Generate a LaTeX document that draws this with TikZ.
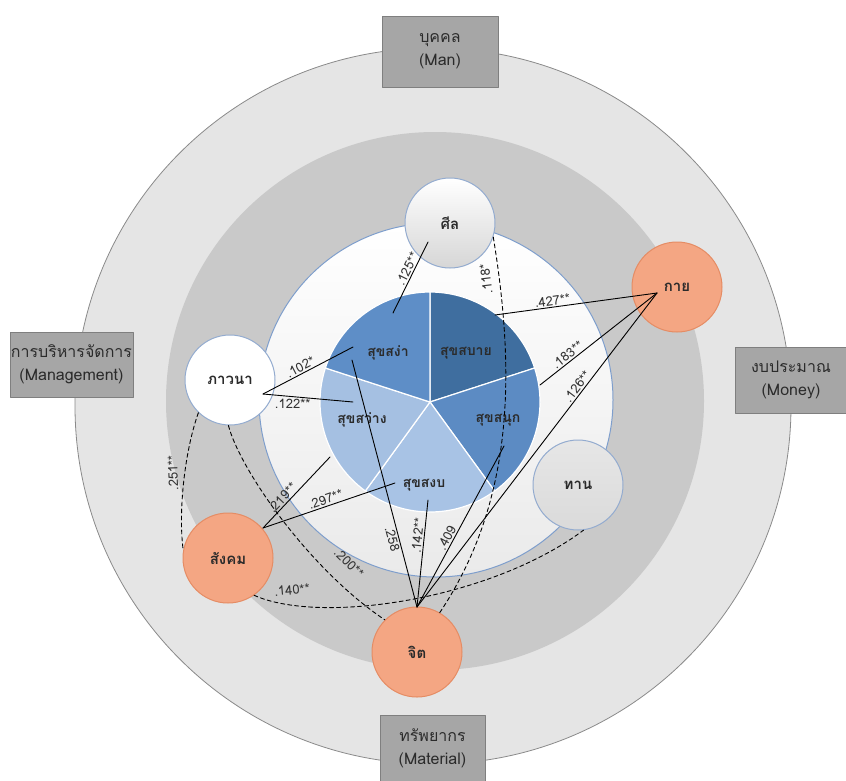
\documentclass[tikz,border=0pt]{standalone}
\usepackage{fontspec}
\newfontfamily\thaifont[Script=Thai]{Loma}
\definecolor{ringout}{HTML}{E5E5E5}
\definecolor{ringrim}{HTML}{8A8A8A}
\definecolor{ringmid}{HTML}{C9C9C9}
\definecolor{innergray}{HTML}{EAEAEA}
\definecolor{rimblue}{HTML}{7E9ECC}
\definecolor{pieA}{HTML}{5E8EC7}
\definecolor{pieB}{HTML}{3F6E9F}
\definecolor{pieC}{HTML}{5C8BC3}
\definecolor{pieD}{HTML}{A8C3E5}
\definecolor{pieE}{HTML}{A5C0E2}
\definecolor{ballorange}{HTML}{F4A683}
\definecolor{ballrim}{HTML}{E58C64}
\definecolor{ballgray}{HTML}{D6D6D6}
\definecolor{ballblue}{HTML}{93ABCF}
\definecolor{boxgray}{HTML}{A6A6A6}
\definecolor{boxrim}{HTML}{7F7F7F}
\definecolor{inktext}{HTML}{2B2B2B}
\tikzset{
  ball/.style={circle,minimum size=90pt,inner sep=0pt,line width=1pt,
    font=\thaifont\bfseries\fontsize{15}{18}\selectfont,text=inktext},
  orangeball/.style={ball,fill=ballorange,draw=ballrim},
  grayball/.style={ball,top color=white,bottom color=ballgray,draw=ballblue},
  whiteball/.style={ball,fill=white,draw=ballblue},
  resbox/.style={draw=boxrim,fill=boxgray,line width=0.8pt,inner sep=0pt,align=center,
    font=\thaifont\fontsize{16}{23}\selectfont,text=inktext},
  pielabel/.style={font=\thaifont\bfseries\fontsize{14}{17}\selectfont,text=inktext,inner sep=0pt},
  coef/.style={font=\thaifont\fontsize{13}{14}\selectfont,inner sep=1.5pt,text=black!80},
  link/.style={line width=0.9pt},
  dlink/.style={line width=0.9pt,dash pattern=on 4pt off 3pt},
}
\begin{document}
\begin{tikzpicture}[x=1pt,y=-1pt,line join=round,line cap=round]
	\useasboundingbox (0,0) rectangle (846,780);
	\path (433,406) coordinate (O1)
	(435,401) coordinate (O2)
	(436,400) coordinate (O3)
	(430,402) coordinate (pc)
	;
	% rings
	\filldraw[fill=ringout,draw=ringrim,line width=0.8pt] (O1) circle[radius=358];
	\fill[ringmid] (O2) circle[radius=269];
	\shadedraw[top color=white,bottom color=innergray,draw=rimblue,line width=1pt] (O3) circle[radius=177];
	% pie (angles negated, y runs down)
	\foreach \a/\b/\c in {-90/-18/pieB,-18/54/pieC,54/126/pieD,126/198/pieE,198/270/pieA}
	\filldraw[fill=\c,draw=white,line width=1.2pt] (pc) -- ++(\a:110) arc[start angle=\a,end angle=\b,radius=110] -- cycle;
	\node[pielabel] (sngaa) at (388,353) {สุขสง่า};
	\node[pielabel] (sbaay) at (466,353) {สุขสบาย};
	\node[pielabel] (swaang) at (362,420) {สุขสว่าง};
	\node[pielabel] (snuk) at (498,420) {สุขสนุก};
	\node[pielabel] (sngob) at (424,485) {สุขสงบ};
	% outer boxes
	\node[resbox,minimum width=116pt,minimum height=71pt] (man) at (440,51.5) {บุคคล\\(Man)};
	\node[resbox,minimum width=123pt,minimum height=65pt] (manage) at (71.5,364.5) {การบริหารจัดการ\\(Management)};
	\node[resbox,minimum width=112pt,minimum height=66pt] (money) at (791,380) {งบประมาณ\\(Money)};
	\node[resbox,minimum width=105pt,minimum height=66pt] (material) at (432.5,748) {ทรัพยากร\\(Material)};
	% small circles
	\node[grayball] (sila) at (450,223) {ศีล};
	\node[orangeball] (kay) at (677,287) {กาย};
	\node[whiteball] (pawana) at (230,380) {ภาวนา};
	\node[grayball,top color=ballgray!60,bottom color=ballgray!90] (tan) at (578,485) {ทาน};
	\node[orangeball] (sangkom) at (228,558) {สังคม};
	\node[orangeball] (jit) at (417,652) {จิต};
	\path (657,293) coordinate (kayA)
	(263,394) coordinate (pawanaA)
	(263,528) coordinate (sangkomA)
	(417,607) coordinate (jitA)
	(428,242) coordinate (silaA)
	(393,313) coordinate (p125)
	(353,347) coordinate (p102)
	(352,360) coordinate (p258)
	(353,402) coordinate (p122)
	(330,457) coordinate (p219)
	(395,483) coordinate (p297)
	(428,500) coordinate (p142)
	(504,446) coordinate (p409)
	(540,385) coordinate (p183)
	(495,315) coordinate (p427)
	;
	% solid links
	\draw[link] (silaA) -- node[coef,sloped,above,pos=.42] (c125) {.125**} (p125);
	\draw[link] (p427) -- node[coef,sloped,above,pos=.36] (c427) {.427**} (kayA);
	\draw[link] (p183) -- node[coef,sloped,above,pos=.27] (c183) {.183**} (kayA);
	\draw[link] (jitA) -- node[coef,sloped,above,pos=.69] (c126) {.126**} (kayA);
	\draw[link] (jitA) -- node[coef,sloped,above,pos=.41] (c409) {.409} (p409);
	\draw[link] (jitA) -- node[coef,sloped,above,pos=.66] (c142) {.142**} (p142);
	\draw[link] (p258) -- node[coef,sloped,below,pos=.72] (c258) {.258} (jitA);
	\draw[link] (pawanaA) -- node[coef,sloped,above,pos=.45] (c102) {.102*} (p102);
	\draw[link] (pawanaA) -- node[coef,below,pos=.33] (c122) {.122**} (p122);
	\draw[link] (sangkomA) -- node[coef,sloped,above,pos=.36] (c219) {.219**} (p219);
	\draw[link] (sangkomA) -- node[coef,sloped,above,pos=.49] (c297) {.297**} (p297);
	% dashed links
	\draw[dlink] (sila.-18) .. controls (515,370) and (515,500) .. (jit.60);
	\draw[dlink] (pawana.226) .. controls (185,450) and (178,510) .. (sangkom.170);
	\draw[dlink] (pawana.-92) .. controls (240,470) and (310,570) .. (jit.135);
	\draw[dlink] (sangkom.-55) .. controls (320,625) and (490,600) .. (tan.-83);
	\node[coef,rotate=97] (c118) at (486,279) {.118*};
	\node[coef,rotate=92] (c251) at (173,473) {.251**};
	\node[coef,rotate=-45] (c200) at (349,563) {.200**};
	\node[coef,rotate=5] (c140) at (292,590) {.140**};
\end{tikzpicture}
\end{document}
